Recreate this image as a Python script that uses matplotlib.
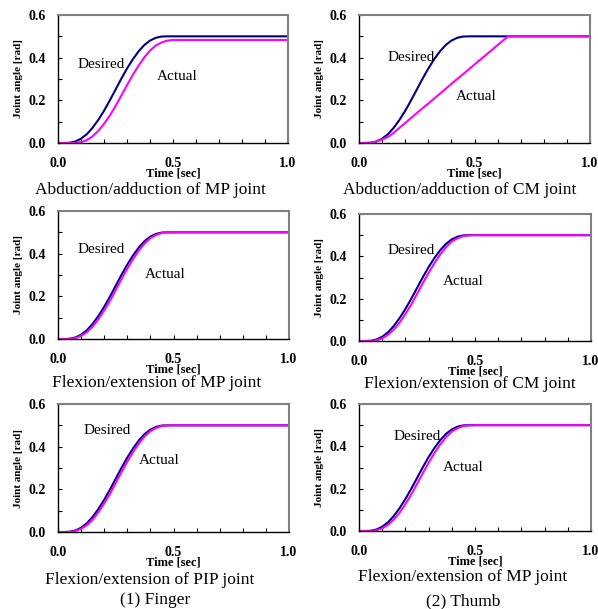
import matplotlib
matplotlib.use("Agg")
import matplotlib.pyplot as plt
from matplotlib.ticker import MultipleLocator

plt.rcParams['font.family'] = ['Liberation Serif', 'DejaVu Serif']

# time axis [sec]
t = [0.0, 0.025, 0.05, 0.075, 0.1, 0.125, 0.15, 0.175, 0.2, 0.225, 0.25,
     0.275, 0.3, 0.325, 0.35, 0.375, 0.4, 0.425, 0.45, 0.475, 0.5, 0.525,
     0.55, 0.6, 0.645, 0.7, 1.0]

# desired trajectory (same for every joint)
desired = [0.0, 0.0, 0.001, 0.007, 0.020, 0.041, 0.071, 0.108, 0.151, 0.199,
           0.25, 0.301, 0.349, 0.392, 0.429, 0.459, 0.480, 0.493, 0.499, 0.5,
           0.5, 0.5, 0.5, 0.5, 0.5, 0.5, 0.5]

# actual trajectories
actual_abd_mp = [0.0, 0.0, 0.0, 0.001, 0.004, 0.0135, 0.031, 0.056, 0.090,
                 0.128, 0.173, 0.222, 0.271, 0.319, 0.362, 0.401, 0.433,
                 0.457, 0.471, 0.480, 0.483, 0.483, 0.483, 0.483, 0.483,
                 0.483, 0.483]
actual_abd_cm = [0.0, 0.0, 0.001, 0.006, 0.017, 0.028, 0.048, 0.071, 0.094,
                 0.117, 0.140, 0.163, 0.185, 0.208, 0.231, 0.254, 0.277,
                 0.300, 0.322, 0.345, 0.368, 0.391, 0.413, 0.459, 0.5, 0.5,
                 0.5]
actual_flex_finger = [0.0, 0.0, 0.0005, 0.004, 0.015, 0.032, 0.058, 0.093,
                      0.134, 0.179, 0.230, 0.281, 0.330, 0.375, 0.415, 0.448,
                      0.473, 0.488, 0.497, 0.4995, 0.5, 0.5, 0.5, 0.5, 0.5,
                      0.5, 0.5]
actual_flex_thumb = [0.0, 0.0, 0.0003, 0.003, 0.0125, 0.029, 0.054, 0.087,
                     0.127, 0.172, 0.222, 0.273, 0.322, 0.368, 0.409, 0.443,
                     0.470, 0.486, 0.496, 0.499, 0.5, 0.5, 0.5, 0.5, 0.5,
                     0.5, 0.5]

xticks = [0.0, 0.5, 1.0]
yticks = [0.0, 0.2, 0.4, 0.6]

titles = ["Abduction/adduction of MP joint", "Abduction/adduction of CM joint",
          "Flexion/extension of MP joint", "Flexion/extension of CM joint",
          "Flexion/extension of PIP joint", "Flexion/extension of MP joint"]
actuals = [actual_abd_mp, actual_abd_cm, actual_flex_finger, actual_flex_thumb,
           actual_flex_finger, actual_flex_thumb]
# label positions in data coords (Desired, Actual)
desired_pos = [(0.186, 0.37), (0.224, 0.40), (0.185, 0.42), (0.223, 0.427),
               (0.212, 0.478), (0.249, 0.446)]
actual_pos = [(0.517, 0.314), (0.506, 0.22), (0.465, 0.30), (0.451, 0.28),
              (0.44, 0.333), (0.451, 0.30)]

W, H = 598, 609
# axes boxes in pixels: left, right, top, bottom
boxes = [(58, 288, 15, 143), (359, 590, 15, 143),
         (58, 289, 211, 339), (359, 591, 214, 341),
         (58, 289, 404, 532), (359, 591, 404, 531)]
title_xy = [(150, 190), (460, 190), (157, 383), (470, 384), (150, 580), (463, 577)]

fig = plt.figure(figsize=(W / 100, H / 100), dpi=100)

for i in range(6):
    l, r, tp, b = boxes[i]
    ax = fig.add_axes([l / W, 1 - b / H, (r - l) / W, (b - tp) / H])
    ax.plot(t, desired, color='#000080', lw=1.5)
    ax.plot(t, actuals[i], color='#FF00FF', lw=1.5)
    ax.set_xlim(0, 1.0)
    ax.set_ylim(0, 0.6)
    ax.set_xticks(xticks, ['%.1f' % v for v in xticks], fontweight='bold', fontsize=10)
    ax.set_yticks(yticks, ['%.1f' % v for v in yticks], fontweight='bold', fontsize=10)
    ax.xaxis.set_minor_locator(MultipleLocator(0.1))
    ax.yaxis.set_minor_locator(MultipleLocator(0.1))
    ax.tick_params(which='both', direction='in', length=3, width=0.8)
    ax.tick_params(axis='x', pad=10)
    ax.tick_params(axis='y', pad=9)
    for s in ['top', 'right']:
        ax.spines[s].set_color('#808080')
        ax.spines[s].set_linewidth(1.5)
    for s in ['left', 'bottom']:
        ax.spines[s].set_linewidth(1.0)
    ax.set_xlabel('Time [sec]', fontsize=9, fontweight='bold', labelpad=-2)
    ax.set_ylabel('Joint angle [rad]', fontsize=8, fontweight='bold', labelpad=4)
    ax.text(*desired_pos[i], 'Desired', fontsize=11, ha='center', va='center')
    ax.text(*actual_pos[i], 'Actual', fontsize=11, ha='center', va='center')
    fig.text(title_xy[i][0] / W, 1 - title_xy[i][1] / H, titles[i],
             fontsize=12.5, ha='center', va='center')

fig.text(155 / W, 1 - 600 / H, '(1) Finger', fontsize=12.5, ha='center', va='center')
fig.text(463 / W, 1 - 601 / H, '(2) Thumb', fontsize=12.5, ha='center', va='center')

fig.savefig('out.png', dpi=100)
